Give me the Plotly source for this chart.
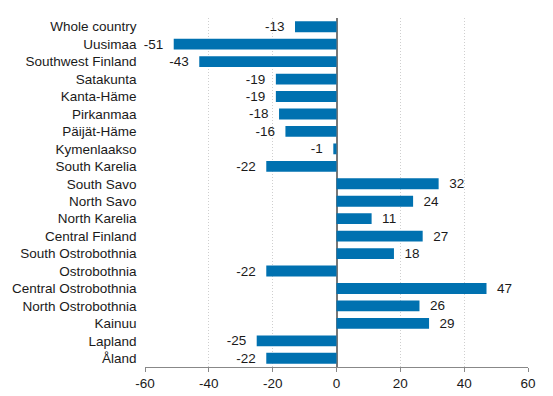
import plotly.graph_objects as go

regions = ["Whole country", "Uusimaa", "Southwest Finland", "Satakunta", "Kanta-Häme",
           "Pirkanmaa", "Päijät-Häme", "Kymenlaakso", "South Karelia", "South Savo",
           "North Savo", "North Karelia", "Central Finland", "South Ostrobothnia",
           "Ostrobothnia", "Central Ostrobothnia", "North Ostrobothnia", "Kainuu",
           "Lapland", "Åland"]
values = [-13, -51, -43, -19, -19, -18, -16, -1, -22, 32, 24, 11, 27, 18, -22, 47, 26, 29, -25, -22]
x_ticks = [-60, -40, -20, 0, 20, 40, 60]

# value labels with a little padding away from the bar end
pad = "\u00a0\u00a0"
value_labels = [(f"{v}{pad}" if v < 0 else f"{pad}{v}") for v in values]

fig = go.Figure(go.Bar(
    x=values, y=regions, orientation="h",
    marker=dict(color="#0071b0", line=dict(width=0)),
    text=value_labels, textposition="outside", cliponaxis=False,
    constraintext="none",
    textfont=dict(family="Liberation Sans, Arial, sans-serif", size=13.5, color="#1a1a1a"),
    hoverinfo="skip",
))

fig.update_layout(
    width=553, height=396,
    margin=dict(l=145, r=25, t=18, b=29, autoexpand=False),
    paper_bgcolor="white", plot_bgcolor="white",
    bargap=0.38,
    showlegend=False,
    font=dict(family="Liberation Sans, Arial, sans-serif", size=13.5, color="#1a1a1a"),
    xaxis=dict(
        range=[-60, 60], tickvals=x_ticks, ticktext=[str(v) for v in x_ticks],
        showgrid=True, gridcolor="#cfcfcf", griddash="1px,2px", gridwidth=1,
        zeroline=True, zerolinecolor="#777777", zerolinewidth=1.5,
        showline=True, linecolor="#888888", linewidth=1,
        ticks="outside", ticklen=4, tickcolor="#888888",
        tickfont=dict(size=13.5), fixedrange=True, automargin=False,
    ),
    yaxis=dict(
        autorange="reversed", showgrid=False, ticks="", showline=False,
        tickfont=dict(size=13.5), ticksuffix="  ", automargin=False, fixedrange=True,
    ),
)

fig.write_html("out.html", config={"displayModeBar": False},
               post_script="document.body.style.margin='0';")
